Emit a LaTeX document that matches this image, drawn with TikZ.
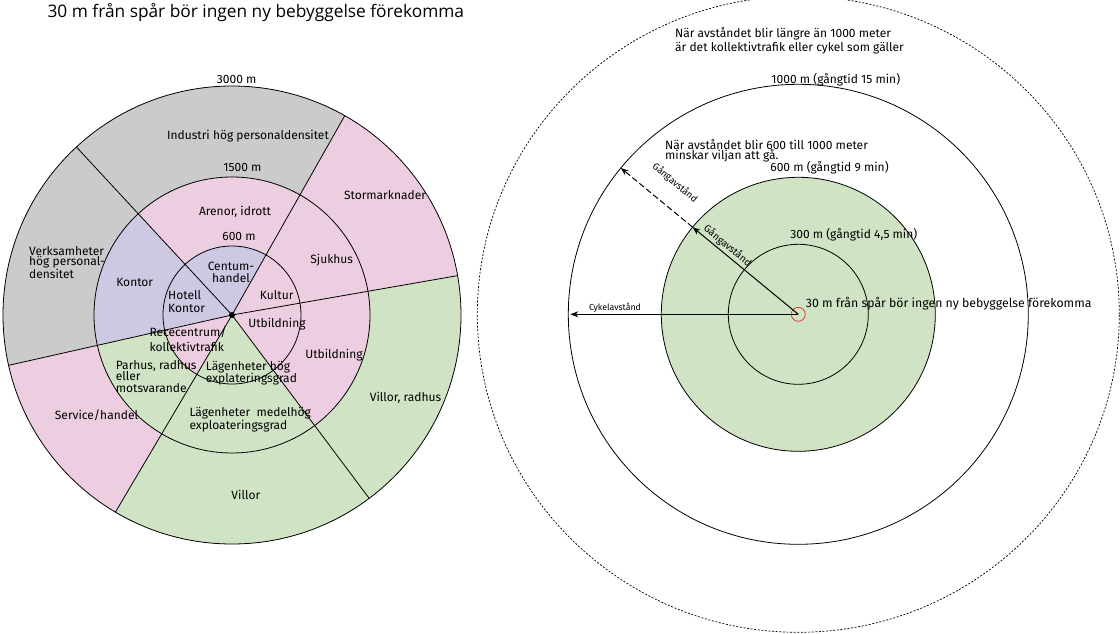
\documentclass[tikz,border=0pt]{standalone}
\usepackage{fontspec}
\setmainfont{Fira Sans}
\newfontfamily\titlefont{Open Sans}
\usetikzlibrary{arrows.meta,calc}
\definecolor{zgray}{RGB}{204,203,203}
\definecolor{zpink}{RGB}{237,206,224}
\definecolor{zlav}{RGB}{205,201,226}
\definecolor{zgreen}{RGB}{209,227,197}
\definecolor{zred}{RGB}{222,60,50}
\tikzset{
  lbl/.style={font=\fontsize{12}{12}\selectfont, inner sep=0pt},
  lbll/.style={lbl, align=left, anchor=west},
  lblc/.style={lbl, align=center},
  small/.style={font=\fontsize{8.8}{9}\selectfont, inner sep=0pt},
  ring/.style={draw=black, line width=0.8pt},
  ray/.style={draw=black, line width=0.8pt},
  arr/.style={line width=1pt, -{Stealth[length=8pt,width=6pt]}},
}
\newcommand{\wedgefill}[5]{% color, center, a1, a2, radius
  \fill[#1] (#2) -- ($(#2)+(#3:#5)$) arc[start angle=#3, end angle=#4, radius=#5] -- cycle;}
\begin{document}
\begin{tikzpicture}[x=1pt,y=1pt]
\useasboundingbox (0,0) rectangle (1120,-634);
% ---------- LEFT DIAGRAM ----------
\coordinate (L) at (232,-315);
% outer ring
\wedgefill{zgray}{L}{60.5}{132.8}{229pt}
\wedgefill{zgray}{L}{132.8}{192.7}{229pt}
\wedgefill{zpink}{L}{192.7}{239.4}{229pt}
\wedgefill{zgreen}{L}{239.4}{306.8}{229pt}
\wedgefill{zgreen}{L}{306.8}{369.9}{229pt}
\wedgefill{zpink}{L}{9.9}{60.5}{229pt}
% middle ring
\wedgefill{zpink}{L}{60.5}{132.8}{138pt}
\wedgefill{zlav}{L}{132.8}{192.7}{138pt}
\wedgefill{zgreen}{L}{192.7}{239.4}{138pt}
\wedgefill{zgreen}{L}{239.4}{306.8}{138pt}
\wedgefill{zpink}{L}{306.8}{369.9}{138pt}
\wedgefill{zpink}{L}{9.9}{60.5}{138pt}
% inner
\wedgefill{zlav}{L}{60.5}{132.8}{69pt}
\wedgefill{zlav}{L}{132.8}{192.7}{69pt}
\wedgefill{zpink}{L}{192.7}{239.4}{69pt}
\wedgefill{zgreen}{L}{239.4}{306.8}{69pt}
\wedgefill{zpink}{L}{306.8}{369.9}{69pt}
\wedgefill{zpink}{L}{9.9}{60.5}{69pt}
% circles
\draw[ring] (L) circle[radius=229pt];
\draw[ring] (L) circle[radius=138pt];
\draw[ring] (L) circle[radius=69pt];
% rays
\foreach \a/\n in {132.8/rA,60.5/rC,9.9/rE,-53.2/rB,-120.6/rD,192.7/rF}{
  \coordinate (\n) at ($(L)+(\a:229pt)$);
  \draw[ray] (L) -- (\n);
}
\fill (L) circle[radius=3pt];
% labels left
\node[font=\titlefont\fontsize{17.3}{19}\selectfont, inner sep=0pt] (title) at (255.8,-13) {30 m från spår bör ingen ny bebyggelse förekomma};
\node[lblc] (t3000) at (236.7,-79) {3000 m};
\node[lblc] (tind) at (248,-136) {Industri hög personaldensitet};
\node[lblc] (t1500) at (242.5,-167) {1500 m};
\node[lblc] (tstor) at (385,-195) {Stormarknader};
\node[lblc] (taren) at (235,-212) {Arenor, idrott};
\node[lblc] (t600) at (239,-236) {600 m};
\node[lbll, font=\fontsize{12}{10.8}\selectfont] (tverk) at (29,-262.5) {Verksamheter\\hög personal-\\densitet};
\node[lblc] (tsjuk) at (331.7,-260) {Sjukhus};
\node[lblc] (tkont) at (134.7,-282.7) {Kontor};
\node[lblc, font=\fontsize{12}{12.3}\selectfont] (tcent) at (231,-272.2) {Centum-\\handel};
\node[lbll, font=\fontsize{12}{13.3}\selectfont] (thot) at (168,-301.7) {Hotell\\Kontor};
\node[lblc] (tkult) at (276.7,-295) {Kultur};
\node[lblc] (tutb1) at (277,-323.7) {Utbildning};
\node[lbll, font=\fontsize{12}{14.5}\selectfont] (trec) at (149.3,-339) {Rececentrum/\\kollektivtrafik};
\node[lblc] (tutb2) at (334,-355) {Utbildning};
\node[lbll, font=\fontsize{12}{11.2}\selectfont] (tparh) at (115.7,-376.5) {Parhus, radhus\\eller\\motsvarande};
\node[lbll, font=\fontsize{12}{11}\selectfont] (tlagh) at (205.7,-373.2) {Lägenheter hög\\explateringsgrad};
\node[lblc] (tvilr) at (405.5,-397.7) {Villor, radhus};
\node[lblc] (tserv) at (96.5,-415) {Service/handel};
\node[lbll, font=\fontsize{12}{11.4}\selectfont] (tlagm) at (189.3,-420) {Lägenheter~~medelhög\\exploateringsgrad};
\node[lblc] (tvill) at (245.8,-495.3) {Villor};
% ---------- RIGHT DIAGRAM ----------
\coordinate (R) at (798.3,-314.3);
\draw[line width=0.7pt, dash pattern=on 2pt off 1.6pt] (R) ellipse[x radius=321pt, y radius=318pt];
\draw[ring] (R) circle[radius=230pt];
\draw[ring, fill=zgreen] (R) circle[radius=137pt];
\draw[ring] (R) circle[radius=70pt];
\draw[zred, line width=0.8pt] (R) circle[radius=7pt];
\coordinate (w1) at ($(R)+(140.5:137pt)$);
\coordinate (w2) at ($(R)+(140.5:230pt)$);
\coordinate (cy) at ($(R)+(180:228pt)$);
\draw[arr] (R) -- (cy);
\draw[arr] (R) -- (w1);
\draw[arr, dash pattern=on 6pt off 3pt] (w1) -- (w2);
\node[small] (tcyk) at (615,-307.3) {Cykelavstånd};
\node[inner sep=0pt, rotate=-39.5, font=\fontsize{10}{10}\selectfont] (tgang1) at (727.5,-246) {Gångavstånd};
\node[inner sep=0pt, rotate=-40, font=\fontsize{9.5}{10}\selectfont] (tgang2) at (675,-182.7) {Gångavstånd};
\node[lbll, font=\fontsize{12}{14.4}\selectfont] (tlang) at (675,-40.5) {När avståndet blir längre än 1000 meter\\är det kollektivtrafik eller cykel som gäller};
\node[lblc] (t1000) at (835.8,-79.3) {1000 m (gångtid 15 min)};
\node[lbll, font=\fontsize{12}{10.3}\selectfont] (tvilj) at (665,-150.8) {När avståndet blir 600 till 1000 meter\\minskar viljan att gå.};
\node[lblc] (t600r) at (829.5,-167.3) {600 m (gångtid 9 min)};
\node[lblc] (t300r) at (853.8,-235) {300 m (gångtid 4,5 min)};
\node[lbll, font=\fontsize{12.3}{13}\selectfont] (t30r) at (805.7,-304) {30 m från spår bör ingen ny bebyggelse förekomma};
\end{tikzpicture}
\end{document}
